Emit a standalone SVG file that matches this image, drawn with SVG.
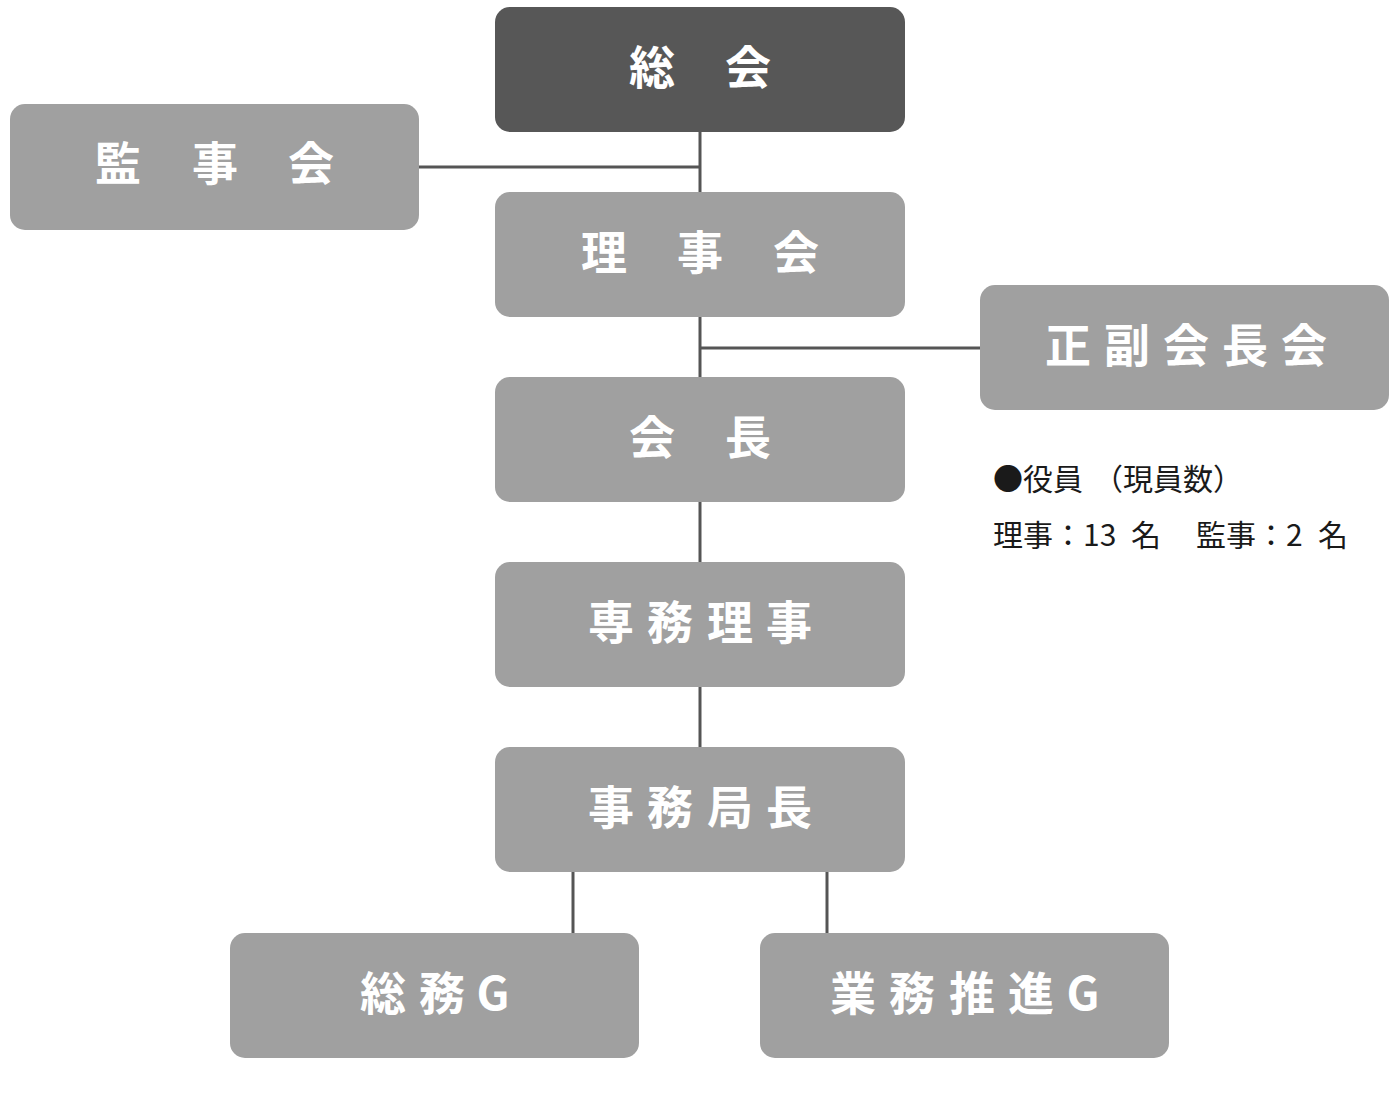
<svg xmlns="http://www.w3.org/2000/svg" width="1400" height="1101" viewBox="0 0 1400 1101">
<style>
.box{fill:#a0a0a0}
.dark{fill:#575757}
.lbl{font-family:"Noto Sans CJK JP","Noto Sans",sans-serif;font-weight:700;font-size:46px;fill:#ffffff;text-anchor:middle}
.note{font-family:"Noto Sans CJK JP","Noto Sans",sans-serif;font-size:30px;fill:#1a1a1a}
.ln{stroke:#555555;stroke-width:3;fill:none}
</style>
<rect width="1400" height="1101" fill="#ffffff"/>
<g id="connectors">
<line class="ln" x1="700" y1="132" x2="700" y2="192"/>
<line class="ln" x1="419" y1="167" x2="700" y2="167"/>
<line class="ln" x1="700" y1="317" x2="700" y2="377"/>
<line class="ln" x1="700" y1="348" x2="980" y2="348"/>
<line class="ln" x1="700" y1="502" x2="700" y2="562"/>
<line class="ln" x1="700" y1="687" x2="700" y2="747"/>
<line class="ln" x1="573" y1="872" x2="573" y2="933"/>
<line class="ln" x1="827" y1="872" x2="827" y2="933"/>
</g>
<g id="soukai">
<rect class="dark" x="495" y="7" width="410" height="125" rx="15"/>
<text class="lbl" x="652 748" y="84">総会</text>
</g>
<g id="kanjikai">
<rect class="box" x="10" y="104" width="409" height="126" rx="15"/>
<text class="lbl" x="118 215 311" y="180">監事会</text>
</g>
<g id="rijikai">
<rect class="box" x="495" y="192" width="410" height="125" rx="15"/>
<text class="lbl" x="604 700 796" y="269">理事会</text>
</g>
<g id="seifukukaichokai">
<rect class="box" x="980" y="285" width="409" height="125" rx="15"/>
<text class="lbl" x="1068 1127 1186 1245 1304" y="362">正副会長会</text>
</g>
<g id="kaicho">
<rect class="box" x="495" y="377" width="410" height="125" rx="15"/>
<text class="lbl" x="652 748" y="454">会長</text>
</g>
<g id="senmuriji">
<rect class="box" x="495" y="562" width="410" height="125" rx="15"/>
<text class="lbl" x="611 670 730 789" y="639">専務理事</text>
</g>
<g id="jimukyokucho">
<rect class="box" x="495" y="747" width="410" height="125" rx="15"/>
<text class="lbl" x="611 670 730 789" y="824">事務局長</text>
</g>
<g id="soumu-g">
<rect class="box" x="230" y="933" width="409" height="125" rx="15"/>
<text class="lbl" x="383 442 493" y="1010">総務G</text>
</g>
<g id="gyomusuishin-g">
<rect class="box" x="760" y="933" width="409" height="125" rx="15"/>
<text class="lbl" x="853 912 972 1031 1083" y="1010">業務推進G</text>
</g>
<g id="notes">
<text class="note" x="993" y="490">●役員<tspan x="1093">（現員数）</tspan></text>
<text class="note" x="993" y="546">理事：13<tspan x="1131">名</tspan><tspan x="1196">監事：2</tspan><tspan x="1318">名</tspan></text>
</g>
</svg>
